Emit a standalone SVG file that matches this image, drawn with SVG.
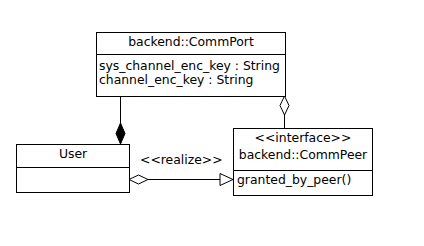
<svg xmlns="http://www.w3.org/2000/svg" width="424" height="246" viewBox="0 0 424 246">
  <style>
    .box { fill: #ffffff; stroke: #000000; stroke-width: 1; }
    .sep { stroke: #000000; stroke-width: 1; }
    .t { font-family: "DejaVu Sans", sans-serif; font-size: 12.4px; fill: #000000; }
    .c { text-anchor: middle; }
    .edge { fill: none; stroke: #000000; stroke-width: 1; }
  </style>
  <rect width="424" height="246" fill="#ffffff"/>

  <g id="connectors">
    <!-- composition: CommPort -> User -->
    <line class="edge" x1="120.5" y1="96" x2="120.5" y2="123"/>
    <polygon points="120.5,123 125,133.5 120.5,144 116,133.5" fill="#000000" stroke="#000000"/>
    <!-- aggregation: CommPeer -> CommPort -->
    <line class="edge" x1="284.5" y1="115" x2="284.5" y2="128"/>
    <polygon points="284.5,96 289,105.5 284.5,115 280,105.5" fill="#ffffff" stroke="#000000"/>
    <!-- realization: User -> CommPeer -->
    <polygon points="129,179.5 138.5,175 148,179.5 138.5,184" fill="#ffffff" stroke="#000000"/>
    <line class="edge" x1="148" y1="179.5" x2="220" y2="179.5"/>
    <polygon points="220,173.5 233,179.5 220,185.5" fill="#ffffff" stroke="#000000"/>
    <text class="t" x="140" y="164">&lt;&lt;realize&gt;&gt;</text>
  </g>

  <g id="CommPort">
    <rect class="box" x="96.5" y="32.5" width="189" height="64"/>
    <line class="sep" x1="96.5" y1="54.5" x2="285.5" y2="54.5"/>
    <text class="t c" x="191" y="46">backend::CommPort</text>
    <text class="t" x="99" y="70">sys_channel_enc_key : String</text>
    <text class="t" x="99" y="84">channel_enc_key : String</text>
  </g>

  <g id="User">
    <rect class="box" x="16.5" y="144.5" width="113" height="48"/>
    <line class="sep" x1="16.5" y1="167.5" x2="129.5" y2="167.5"/>
    <text class="t c" x="73" y="158">User</text>
  </g>

  <g id="CommPeer">
    <rect class="box" x="233.5" y="128.5" width="139" height="67"/>
    <line class="sep" x1="233.5" y1="170.5" x2="372.5" y2="170.5"/>
    <text class="t c" x="303" y="142">&lt;&lt;interface&gt;&gt;</text>
    <text class="t c" x="303" y="159">backend::CommPeer</text>
    <text class="t" x="237" y="184">granted_by_peer()</text>
  </g>
</svg>
